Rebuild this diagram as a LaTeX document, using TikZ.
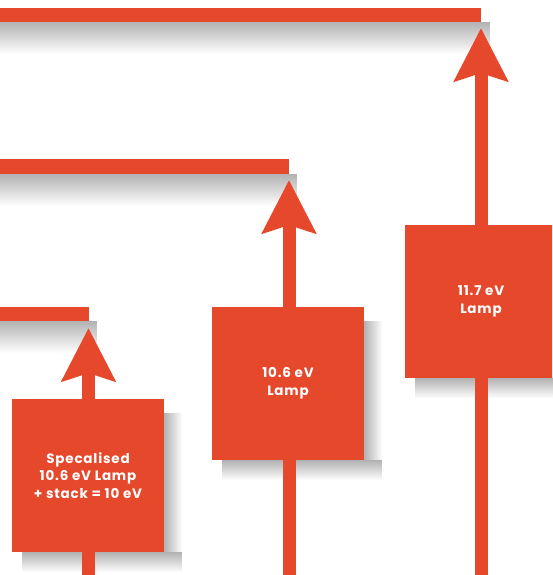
\documentclass[tikz,border=0pt]{standalone}
\usepackage{fontspec}
\newfontfamily\lampfont{Poppins}[LetterSpace=6]
\usetikzlibrary{arrows.meta,fadings}

\definecolor{lampred}{RGB}{230,72,44}
\tikzfading[name=fadedown, top color=transparent!25, bottom color=transparent!100]
\tikzfading[name=faderight, left color=transparent!25, right color=transparent!100]
\pgfdeclarelayer{bg}
\pgfsetlayers{bg,main}

\tikzset{
  lamp/.style={fill=lampred, minimum width=152pt, minimum height=153pt,
    inner sep=0pt, align=center, text=white,
    font=\lampfont\bfseries\fontsize{13.5}{17.5}\selectfont},
  level/.style={fill=lampred},
  shadedown/.style={fill=black!40, path fading=fadedown},
  shaderight/.style={fill=black!40, path fading=faderight},
  beam/.style={draw=lampred, line width=13pt,
    -{Stealth[length=53pt,width=53pt,inset=8pt]}}
}

\begin{document}
\begin{tikzpicture}[x=1pt,y=-1pt]
      \useasboundingbox (0,0) rectangle (552,575);
      \clip (0,0) rectangle (552,575);
      % lamps
      \node[lamp] (lampA) at (88,475.5) {Specalised\\10.6 eV Lamp\\+ stack = 10 eV};
      \node[lamp] (lampB) at (288,383.5) {10.6 eV\\Lamp};
      \node[lamp] (lampC) at (481,301.5) {11.7 eV\\Lamp};
      % feet and tips of the beams
      \coordinate (footA) at (88.5,590);
      \coordinate (tipA) at (88.5,328);
      \coordinate (footB) at (289,590);
      \coordinate (tipB) at (289,180);
      \coordinate (footC) at (481,590);
      \coordinate (tipC) at (481,28);
      \begin{pgfonlayer}{bg}
        \fill[white] (0,0) rectangle (552,575);
        % energy levels and their shadows
        \fill[shadedown] (0,22) rectangle (490,54);
        \fill[shadedown] (0,174) rectangle (297,206);
        \fill[shadedown] (0,321) rectangle (97,353);
        \fill[level] (0,8) rectangle (481,22);
        \fill[level] (0,159) rectangle (288.5,174);
        \fill[level] (0,307) rectangle (88.5,321);
        % lamp shadows
        \fill[shaderight] ([yshift=-14pt]lampA.north east) rectangle ([xshift=18pt]lampA.south east);
        \fill[shadedown] ([xshift=10pt]lampA.south west) rectangle ([xshift=18pt,yshift=-20pt]lampA.south east);
        \fill[shaderight] ([yshift=-14pt]lampB.north east) rectangle ([xshift=18pt]lampB.south east);
        \fill[shadedown] ([xshift=10pt]lampB.south west) rectangle ([xshift=18pt,yshift=-20pt]lampB.south east);
        \fill[shadedown] ([xshift=10pt]lampC.south west) rectangle ([xshift=18pt,yshift=-20pt]lampC.south east);
        % beams
        \draw[beam] (footA) -- (tipA);
        \draw[beam] (footB) -- (tipB);
        \draw[beam] (footC) -- (tipC);
      \end{pgfonlayer}
    \end{tikzpicture}
\end{document}
